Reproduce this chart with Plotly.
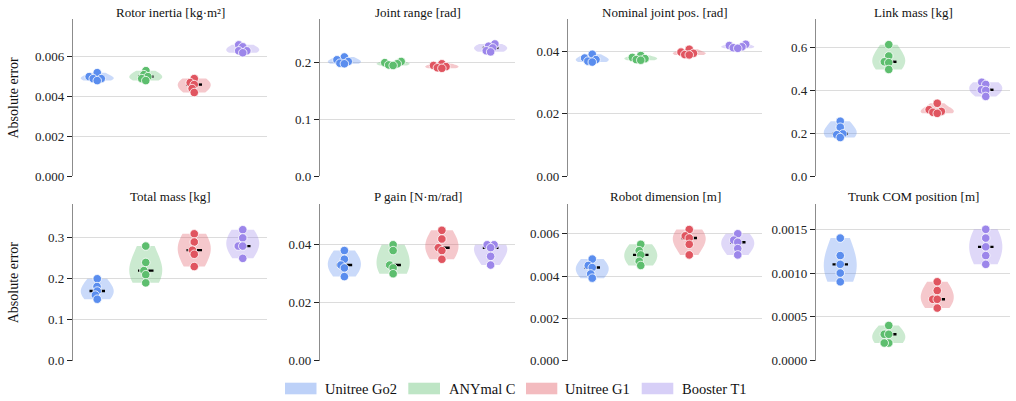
import numpy as np
import plotly.graph_objects as go

# ---------------- data ----------------
robots = ["Unitree Go2", "ANYmal C", "Unitree G1", "Booster T1"]

titles = ["Rotor inertia [kg·m²]", "Joint range [rad]", "Nominal joint pos. [rad]",
          "Link mass [kg]", "Total mass [kg]", "P gain [N·m/rad]",
          "Robot dimension [m]", "Trunk COM position [m]"]

rotor_inertia = [[0.0052, 0.0050, 0.0049, 0.0049, 0.0048],
                 [0.0053, 0.0051, 0.0050, 0.0049, 0.0048],
                 [0.0049, 0.0047, 0.0046, 0.0044, 0.0042],
                 [0.0066, 0.0065, 0.0063, 0.0063, 0.0062]]
joint_range = [[0.210, 0.205, 0.202, 0.199, 0.198],
               [0.202, 0.200, 0.198, 0.196, 0.195],
               [0.198, 0.195, 0.193, 0.191, 0.190],
               [0.233, 0.229, 0.226, 0.221, 0.219]]
nominal_joint_pos = [[0.0390, 0.0378, 0.0373, 0.0368, 0.0365],
                     [0.0386, 0.0380, 0.0376, 0.0373, 0.0371],
                     [0.0406, 0.0397, 0.0393, 0.0389, 0.0388],
                     [0.0422, 0.0418, 0.0414, 0.0411, 0.0409]]
link_mass = [[0.256, 0.228, 0.197, 0.193, 0.180],
             [0.614, 0.561, 0.534, 0.530, 0.498],
             [0.340, 0.310, 0.302, 0.298, 0.293],
             [0.438, 0.428, 0.403, 0.400, 0.372]]
total_mass = [[0.200, 0.181, 0.170, 0.160, 0.150],
              [0.280, 0.240, 0.220, 0.210, 0.190],
              [0.310, 0.290, 0.270, 0.260, 0.230],
              [0.320, 0.300, 0.280, 0.280, 0.250]]
p_gain = [[0.038, 0.035, 0.033, 0.032, 0.029],
          [0.040, 0.038, 0.033, 0.032, 0.030],
          [0.045, 0.042, 0.039, 0.038, 0.035],
          [0.040, 0.040, 0.039, 0.036, 0.033]]
robot_dimension = [[0.0048, 0.0045, 0.0044, 0.0041, 0.0039],
                   [0.0055, 0.0052, 0.0050, 0.0047, 0.0045],
                   [0.0062, 0.0059, 0.0058, 0.0055, 0.0050],
                   [0.0060, 0.0057, 0.0056, 0.0053, 0.0050]]
trunk_com = [[0.0014, 0.0012, 0.0011, 0.0010, 0.0009],
             [0.0004, 0.0003, 0.0003, 0.0002, 0.0002],
             [0.0009, 0.0008, 0.0007, 0.0007, 0.0006],
             [0.0015, 0.0014, 0.0013, 0.0012, 0.0011]]

panels = [rotor_inertia, joint_range, nominal_joint_pos, link_mass,
          total_mass, p_gain, robot_dimension, trunk_com]

# ---------------- style ----------------
point_colors = ["#5A8DEE", "#5DBE6E", "#E05560", "#9C86EA"]
fill_alpha = 0.32
bw_adjust = 1.5
violin_width = 0.68
y_top = [0.0079, 0.277, 0.0503, 0.734, 0.383, 0.0541, 0.00741, 0.00179]
y_dtick = [0.002, 0.1, 0.02, 0.2, 0.1, 0.02, 0.002, 0.0005]
y_fmt = [".3f", ".1f", ".2f", ".1f", ".1f", ".2f", ".3f", ".4f"]

W, H = 1016, 401
cols_px = [(73, 267), (320, 515), (568, 762), (816, 1010)]
rows_px = [(19, 176), (204, 360.5)]
legend_patch_px = [(285, 316.5), (408.3, 440), (526, 557.3), (641.7, 673.3)]
legend_text_px = [323.3, 446.7, 563.3, 680]
legend_y_px = (382.7, 394.3)
FONT = "Liberation Serif, Times New Roman, serif"


def rgba(hexc, a):
    h = hexc.lstrip("#")
    r, g, b = int(h[0:2], 16), int(h[2:4], 16), int(h[4:6], 16)
    return f"rgba({r},{g},{b},{a})"


def light(hexc, a):
    h = hexc.lstrip("#")
    c = [int(h[i:i + 2], 16) for i in (0, 2, 4)]
    c = [round(255 - a * (255 - v)) for v in c]
    return f"rgb({c[0]},{c[1]},{c[2]})"


def scott_bw(vals):
    v = np.asarray(vals, float)
    return v.std(ddof=1) * len(v) ** (-0.2) * bw_adjust


def swarm(vals, ppy, ppx, d):
    vals = np.asarray(vals, float)
    order = np.argsort(vals)
    placed = []
    xs = np.zeros(len(vals))
    for idx in order:
        y = vals[idx] * ppy
        cands = [0.0]
        for px, py in placed:
            dy = abs(py - y)
            if dy < d:
                dx = np.sqrt(d * d - dy * dy)
                cands += [px + dx, px - dx]
        cands = sorted(set(cands), key=lambda c: (abs(c), c))
        chosen = cands[-1]
        for c in cands:
            if all((c - px) ** 2 + (y - py) ** 2 >= d * d - 1e-6 for px, py in placed):
                chosen = c
                break
        placed.append((chosen, y))
        xs[idx] = chosen / ppx
    return xs


fig = go.Figure()
layout_axes = {}
annotations = []
shapes = []

for k, data in enumerate(panels):
    r, c = divmod(k, 4)
    xa = f"x{k + 1}" if k else "x"
    ya = f"y{k + 1}" if k else "y"
    x0, x1 = cols_px[c]
    y0, y1 = rows_px[r]
    ppx = (x1 - x0) / 4.0
    ppy = (y1 - y0) / y_top[k]

    for i, vals in enumerate(data):
        fig.add_trace(go.Violin(
            x=[i] * len(vals), y=vals, xaxis=xa, yaxis=ya,
            width=violin_width, scalemode="width", spanmode="hard",
            bandwidth=scott_bw(vals), points=False,
            fillcolor=rgba(point_colors[i], fill_alpha),
            line=dict(width=0, color="rgba(0,0,0,0)"), box_visible=False,
            meanline_visible=False, showlegend=False, hoverinfo="skip"))
    for i, vals in enumerate(data):
        med = float(np.median(vals))
        fig.add_trace(go.Scatter(
            x=[i - 0.16, i + 0.16], y=[med, med], xaxis=xa, yaxis=ya, mode="lines",
            line=dict(color="black", width=2.4), showlegend=False, hoverinfo="skip"))
    for i, vals in enumerate(data):
        off = swarm(vals, ppy, ppx, 4.5)
        fig.add_trace(go.Scatter(
            x=i + off, y=vals, xaxis=xa, yaxis=ya, mode="markers",
            marker=dict(color=point_colors[i], size=8.5, line=dict(color="white", width=0.8)),
            showlegend=False, hoverinfo="skip"))

    xkey = "xaxis" if k == 0 else f"xaxis{k + 1}"
    ykey = "yaxis" if k == 0 else f"yaxis{k + 1}"
    layout_axes[xkey] = dict(domain=[x0 / W, x1 / W], anchor=ya, range=[-0.5, 3.5],
                             showgrid=False, zeroline=False, showline=False,
                             showticklabels=False, ticks="", fixedrange=True,
                             automargin=False)
    layout_axes[ykey] = dict(domain=[1 - y1 / H, 1 - y0 / H], anchor=xa,
                             range=[0, y_top[k]], dtick=y_dtick[k], tick0=0,
                             tickformat=y_fmt[k], showgrid=True, gridcolor="#dcdcdc",
                             gridwidth=1, zeroline=False, showline=True,
                             linecolor="#8c8c8c", linewidth=1.3, ticks="outside",
                             ticklen=5, tickwidth=1.2, tickcolor="#222222",
                             automargin=False,
                             tickfont=dict(family=FONT, size=13, color="#222222"))
    annotations.append(dict(text=titles[k], xref="paper", yref="paper",
                            x=(x0 + x1) / 2 / W, y=1 - (y0 - 7) / H,
                            xanchor="center", yanchor="middle", showarrow=False,
                            font=dict(family=FONT, size=13, color="#111111")))

for r in range(2):
    y0, y1 = rows_px[r]
    annotations.append(dict(text="Absolute error", xref="paper", yref="paper",
                            x=13 / W, y=1 - (y0 + y1) / 2 / H, textangle=-90,
                            xanchor="center", yanchor="middle", showarrow=False,
                            font=dict(family=FONT, size=14, color="#111111")))

# legend (patches + labels)
ly0, ly1 = legend_y_px
for i, name in enumerate(robots):
    px0, px1 = legend_patch_px[i]
    shapes.append(dict(type="rect", xref="paper", yref="paper",
                       x0=px0 / W, x1=px1 / W, y0=1 - ly1 / H, y1=1 - ly0 / H,
                       fillcolor=light(point_colors[i], 0.4), line=dict(width=0)))
    annotations.append(dict(text=name, xref="paper", yref="paper",
                            x=legend_text_px[i] / W, y=1 - (ly0 + ly1) / 2 / H,
                            xanchor="left", yanchor="middle", showarrow=False,
                            font=dict(family=FONT, size=14.5, color="#111111")))

fig.update_layout(
    width=W, height=H, margin=dict(l=0, r=0, t=0, b=0, autoexpand=False),
    paper_bgcolor="white", plot_bgcolor="white",
    violinmode="overlay", showlegend=False,
    font=dict(family=FONT, color="#111111"),
    annotations=annotations, shapes=shapes,
    **layout_axes)

fig.write_html("out.html")
